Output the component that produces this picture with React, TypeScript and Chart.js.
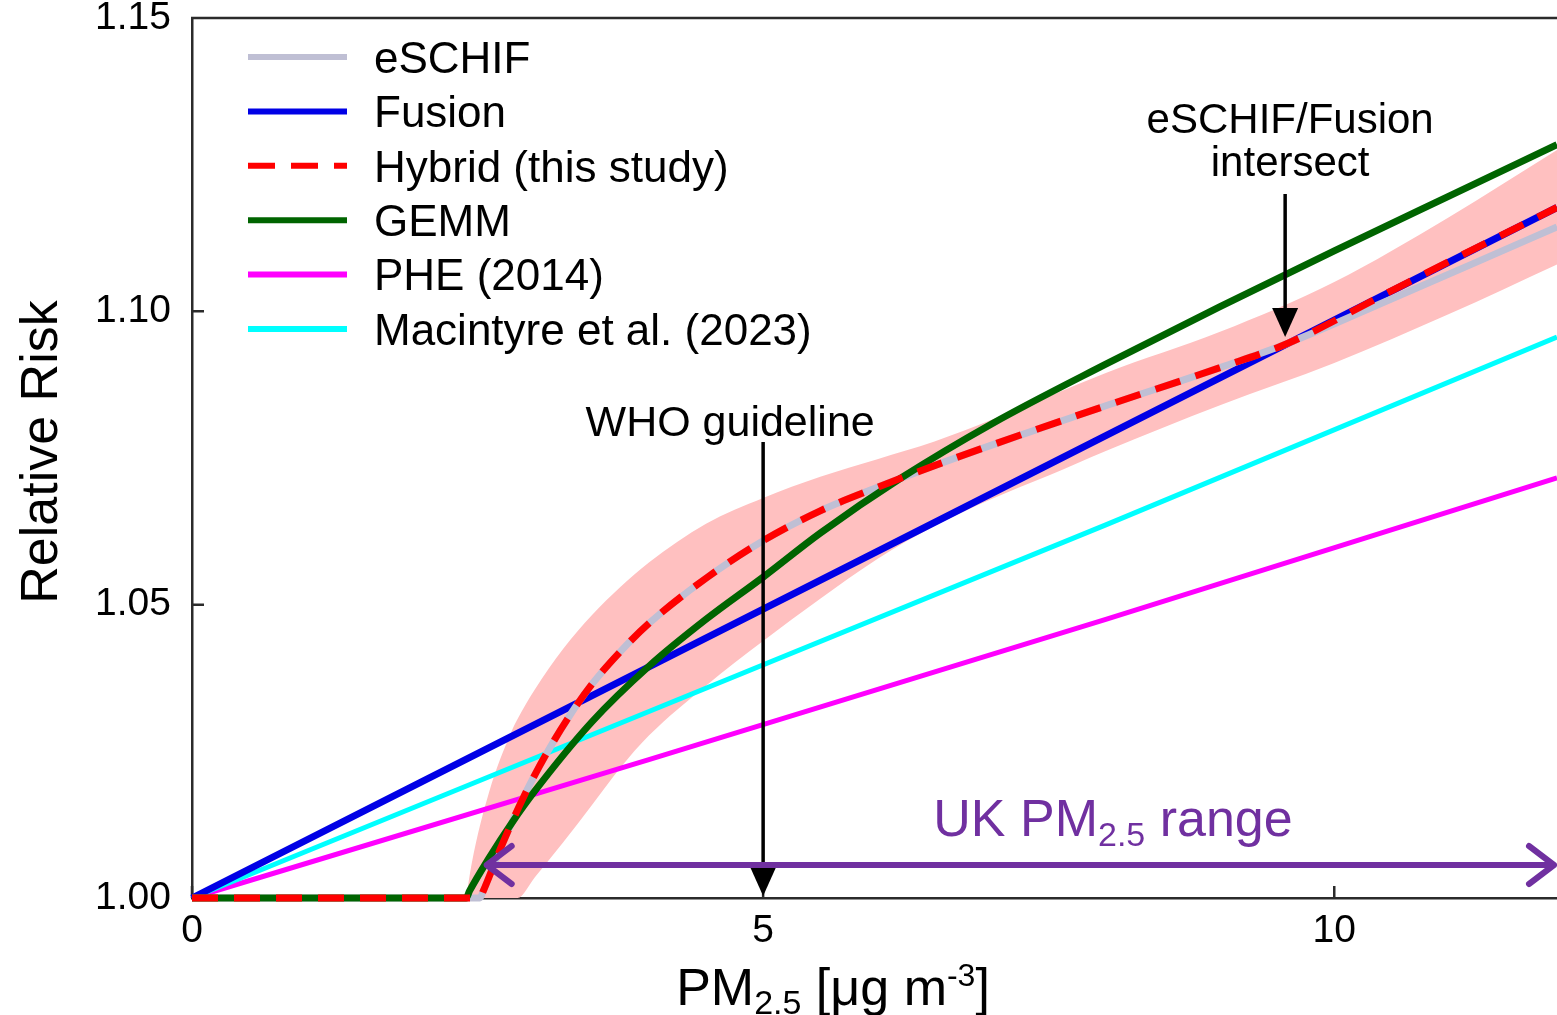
import React, { useEffect, useRef } from 'react';
import { Chart, registerables } from 'chart.js';

Chart.register(...registerables);

const FONT = '"Liberation Sans", Arial, Helvetica, sans-serif';

// ---------- axes ----------
const X_MIN = 0;
const X_MAX = 11.95;
const Y_MIN = 1.0;
const Y_MAX = 1.15;
const xTickValues = [0, 5, 10];
const yTickValues = [1.0, 1.05, 1.1, 1.15];

// ---------- series (PM2.5 in µg m-3, relative risk) ----------
const hybridX = [0, 2.52, 2.55, 2.7, 2.9, 3.1, 3.3, 3.5, 3.75, 4.0, 4.5, 5.0, 5.5, 6.0, 6.5, 7.0, 8.0, 9.0, 9.6, 10.5, 11.2, 11.95];
const hybridY = [1.0, 1.0, 1.0012, 1.0084, 1.0171, 1.0245, 1.0309, 1.0364, 1.042, 1.0468, 1.0545, 1.0609, 1.066, 1.07, 1.0737, 1.0772, 1.0839, 1.0904, 1.0946, 1.1035, 1.1104, 1.1177];

const eschifX = [0, 2.52, 2.55, 2.7, 2.9, 3.1, 3.3, 3.5, 3.75, 4.0, 4.5, 5.0, 5.5, 6.0, 6.5, 7.0, 8.0, 9.0, 9.6, 10.5, 11.2, 11.95];
const eschifY = [1.0, 1.0, 1.0012, 1.0084, 1.0171, 1.0245, 1.0309, 1.0364, 1.042, 1.0468, 1.0545, 1.0609, 1.066, 1.07, 1.0737, 1.0772, 1.0839, 1.0904, 1.0946, 1.1021, 1.108, 1.1144];

const fusionX = [0, 2, 4, 6, 8, 9.6, 11.95];
const fusionY = [1.0, 1.0197, 1.0394, 1.0591, 1.0788, 1.0946, 1.1177];

const gemmX = [0, 2.4, 2.43, 2.6, 2.8, 3.0, 3.5, 4.0, 4.5, 5.0, 5.5, 6.2, 7.0, 8.0, 9.0, 10.0, 11.0, 11.95];
const gemmY = [1.0, 1.0, 1.0012, 1.0068, 1.0128, 1.0182, 1.03, 1.0395, 1.0475, 1.0547, 1.0622, 1.0715, 1.0808, 1.091, 1.1008, 1.1103, 1.1196, 1.1284];

const pheX = [0, 4, 8, 11.95];
const pheY = [1.0, 1.0236, 1.0475, 1.0716];

const macX = [0, 4, 8, 11.95];
const macY = [1.0, 1.0318, 1.0636, 1.0956];

const bandX = [2.4, 2.45, 2.6, 2.8, 2.85, 3.0, 3.25, 3.5, 3.75, 4.0, 4.5, 5.0, 5.5, 6.0, 6.5, 7.0, 7.5, 8.0, 9.0, 10.0, 11.0, 11.95];
const bandHigh = [1.0, 1.006, 1.018, 1.0285, 1.0305, 1.0355, 1.0425, 1.0482, 1.053, 1.0572, 1.0638, 1.0682, 1.0718, 1.0748, 1.0778, 1.0815, 1.0855, 1.0895, 1.0965, 1.105, 1.116, 1.1275];
const bandLow = [1.0, 1.0, 1.0, 1.0, 1.0, 1.0035, 1.0095, 1.0158, 1.0222, 1.0277, 1.0362, 1.0438, 1.051, 1.0578, 1.0634, 1.068, 1.072, 1.0762, 1.084, 1.0912, 1.0995, 1.108];

const legendOrder = ['eSCHIF', 'Fusion', 'Hybrid (this study)', 'GEMM', 'PHE (2014)', 'Macintyre et al. (2023)'];

// annotation anchors (data units)
const WHO_X = 5;
const INTERSECT_X = 9.57;
const UK_RANGE = [2.58, 11.95];

const COLORS = {
  eschif: '#bfbfd4',
  fusion: '#0000e6',
  hybrid: '#ff0000',
  gemm: '#006400',
  phe: '#ff00ff',
  mac: '#00ffff',
  band: '#ffc0c0',
  purple: '#7030a0',
  axis: '#2b2b2b',
};

const pts = (xs: number[], ys: number[]) => xs.map((x, i) => ({ x, y: ys[i] }));

type Part = { t: string; size: number; dy: number };
function drawRich(ctx: CanvasRenderingContext2D, parts: Part[], cx: number, baseline: number, color: string) {
  let total = 0;
  const widths = parts.map((p) => {
    ctx.font = `${p.size}px ${FONT}`;
    const w = ctx.measureText(p.t).width;
    total += w;
    return w;
  });
  let x = cx - total / 2;
  ctx.fillStyle = color;
  ctx.textAlign = 'left';
  ctx.textBaseline = 'alphabetic';
  parts.forEach((p, i) => {
    ctx.font = `${p.size}px ${FONT}`;
    ctx.fillText(p.t, x, baseline + p.dy);
    x += widths[i];
  });
}

function arrowDown(ctx: CanvasRenderingContext2D, x: number, y0: number, tip: number) {
  ctx.save();
  ctx.strokeStyle = '#000';
  ctx.fillStyle = '#000';
  ctx.lineWidth = 3.5;
  ctx.beginPath();
  ctx.moveTo(x, y0);
  ctx.lineTo(x, tip - 20);
  ctx.stroke();
  ctx.beginPath();
  ctx.moveTo(x, tip);
  ctx.lineTo(x - 13, tip - 29);
  ctx.lineTo(x + 13, tip - 29);
  ctx.closePath();
  ctx.fill();
  ctx.restore();
}

const overlay = {
  id: 'overlay',
  beforeDatasetsDraw(chart: any) {
    const { ctx, chartArea: a, scales } = chart;
    const xs = scales.x;
    const ys = scales.y;
    ctx.save();
    ctx.strokeStyle = COLORS.axis;
    ctx.lineWidth = 2.5;
    ctx.beginPath();
    ctx.moveTo(a.left - 1, a.top);
    ctx.lineTo(a.right + 2, a.top);
    yTickValues.forEach((v) => {
      const py = ys.getPixelForValue(v);
      ctx.moveTo(a.left, py);
      ctx.lineTo(a.left + 12, py);
    });
    xTickValues.forEach((v) => {
      const px = xs.getPixelForValue(v);
      ctx.moveTo(px, a.bottom);
      ctx.lineTo(px, a.bottom - 12);
    });
    ctx.stroke();
    ctx.restore();
  },
  afterDatasetsDraw(chart: any) {
    const { ctx, chartArea: a, scales } = chart;
    const xs = scales.x;
    ctx.save();

    // legend
    const datasets = chart.data.datasets;
    legendOrder.forEach((label, i) => {
      const ds = datasets.find((d: any) => d.label === label);
      if (!ds) return;
      const cy = 57 + i * 54.4;
      ctx.save();
      ctx.strokeStyle = ds.borderColor;
      ctx.lineWidth = 6;
      ctx.setLineDash(ds.borderDash ? [27, 16] : []);
      ctx.beginPath();
      ctx.moveTo(248, cy);
      ctx.lineTo(347, cy);
      ctx.stroke();
      ctx.restore();
      ctx.font = `44px ${FONT}`;
      ctx.fillStyle = '#000';
      ctx.textAlign = 'left';
      ctx.textBaseline = 'alphabetic';
      ctx.fillText(label, 374, cy + 15.8);
    });

    // WHO guideline
    const whoPx = xs.getPixelForValue(WHO_X);
    ctx.font = `43px ${FONT}`;
    ctx.fillStyle = '#000';
    ctx.textAlign = 'center';
    ctx.textBaseline = 'alphabetic';
    ctx.fillText('WHO guideline', whoPx - 33, 436);
    arrowDown(ctx, whoPx, 442, a.bottom - 2);

    // eSCHIF/Fusion intersect
    const intPx = xs.getPixelForValue(INTERSECT_X);
    ctx.font = `42px ${FONT}`;
    ctx.textAlign = 'center';
    ctx.fillText('eSCHIF/Fusion', intPx + 5, 133);
    ctx.fillText('intersect', intPx + 5, 176);
    arrowDown(ctx, intPx, 194, 337);

    // UK PM2.5 range arrow
    const yArrow = 865;
    const x0 = xs.getPixelForValue(UK_RANGE[0]);
    const x1 = Math.min(xs.getPixelForValue(UK_RANGE[1]), a.right) - 3;
    ctx.strokeStyle = COLORS.purple;
    ctx.lineWidth = 6;
    ctx.lineCap = 'round';
    ctx.lineJoin = 'round';
    ctx.beginPath();
    ctx.moveTo(x0, yArrow);
    ctx.lineTo(x1, yArrow);
    ctx.moveTo(x0 + 25, yArrow - 19);
    ctx.lineTo(x0, yArrow);
    ctx.lineTo(x0 + 25, yArrow + 19);
    ctx.moveTo(x1 - 25, yArrow - 19);
    ctx.lineTo(x1, yArrow);
    ctx.lineTo(x1 - 25, yArrow + 19);
    ctx.stroke();
    drawRich(
      ctx,
      [
        { t: 'UK PM', size: 52, dy: 0 },
        { t: '2.5', size: 34, dy: 10 },
        { t: ' range', size: 52, dy: 0 },
      ],
      1113,
      836,
      COLORS.purple,
    );

    // axis titles
    drawRich(
      ctx,
      [
        { t: 'PM', size: 52, dy: 0 },
        { t: '2.5', size: 34, dy: 9 },
        { t: ' [μg m', size: 52, dy: 0 },
        { t: '-3', size: 32, dy: -19 },
        { t: ']', size: 52, dy: 0 },
      ],
      833,
      1005,
      '#000',
    );
    ctx.save();
    ctx.translate(57, (a.top + a.bottom) / 2 - 6);
    ctx.rotate(-Math.PI / 2);
    ctx.font = `52px ${FONT}`;
    ctx.fillStyle = '#000';
    ctx.textAlign = 'center';
    ctx.textBaseline = 'alphabetic';
    ctx.fillText('Relative Risk', 0, 0);
    ctx.restore();

    ctx.restore();
  },
};

export default function App() {
  const ref = useRef<HTMLCanvasElement | null>(null);
  useEffect(() => {
    if (!ref.current) return;
    const line = (label: string, xs: number[], ys: number[], color: string, width: number, order: number, extra: any = {}) => ({
      label,
      data: pts(xs, ys),
      borderColor: color,
      backgroundColor: color,
      borderWidth: width,
      pointRadius: 0,
      fill: false,
      order,
      clip: 8,
      ...extra,
    });
    const chart = new Chart(ref.current, {
      type: 'line',
      data: {
        datasets: [
          line('Hybrid (this study)', hybridX, hybridY, COLORS.hybrid, 7, 0, { borderDash: [26, 16], cubicInterpolationMode: 'monotone' }),
          line('GEMM', gemmX, gemmY, COLORS.gemm, 7, 1, { cubicInterpolationMode: 'monotone' }),
          line('eSCHIF', eschifX, eschifY, COLORS.eschif, 7, 2, { cubicInterpolationMode: 'monotone' }),
          line('Fusion', fusionX, fusionY, COLORS.fusion, 7, 3),
          line('Macintyre et al. (2023)', macX, macY, COLORS.mac, 5, 4),
          line('PHE (2014)', pheX, pheY, COLORS.phe, 5, 5),
          {
            label: 'band-low',
            data: pts(bandX, bandLow),
            borderColor: 'rgba(0,0,0,0)',
            borderWidth: 0,
            pointRadius: 0,
            fill: false,
            order: 6,
            cubicInterpolationMode: 'monotone',
          },
          {
            label: 'band-high',
            data: pts(bandX, bandHigh),
            borderColor: 'rgba(0,0,0,0)',
            backgroundColor: COLORS.band,
            borderWidth: 0,
            pointRadius: 0,
            fill: '-1',
            order: 7,
            cubicInterpolationMode: 'monotone',
          },
        ],
      },
      options: {
        animation: false,
        responsive: false,
        devicePixelRatio: 1,
        layout: { padding: { top: 18, left: 0, right: 0, bottom: 0 } },
        plugins: { legend: { display: false }, tooltip: { enabled: false } },
        events: [],
        scales: {
          x: {
            type: 'linear',
            min: X_MIN,
            max: X_MAX,
            grid: { display: false, drawTicks: false },
            border: { display: true, color: COLORS.axis, width: 2.5 },
            ticks: {
              color: '#000',
              font: { family: FONT, size: 39 },
              padding: 10,
              maxRotation: 0,
            },
            afterBuildTicks: (s: any) => {
              s.ticks = xTickValues.map((v) => ({ value: v }));
            },
            afterFit: (s: any) => {
              s.height = 117;
              s.paddingLeft = 0;
              s.paddingRight = 0;
            },
          },
          y: {
            type: 'linear',
            min: Y_MIN,
            max: Y_MAX,
            grid: { display: false, drawTicks: false },
            border: { display: true, color: COLORS.axis, width: 2.5 },
            ticks: {
              color: '#000',
              font: { family: FONT, size: 39 },
              padding: 21,
              callback: (v: any) => Number(v).toFixed(2),
            },
            afterBuildTicks: (s: any) => {
              s.ticks = yTickValues.map((v) => ({ value: v }));
            },
            afterFit: (s: any) => {
              s.width = 192;
              s.paddingTop = 0;
              s.paddingBottom = 0;
            },
          },
        },
      } as any,
      plugins: [overlay],
    });
    return () => chart.destroy();
  }, []);
  return (
    <div style={{ position: 'absolute', left: 0, top: 0, width: 1557, height: 1015, overflow: 'hidden', background: '#fff' }}>
      <canvas ref={ref} width={1557} height={1015} style={{ display: 'block' }} />
    </div>
  );
}
